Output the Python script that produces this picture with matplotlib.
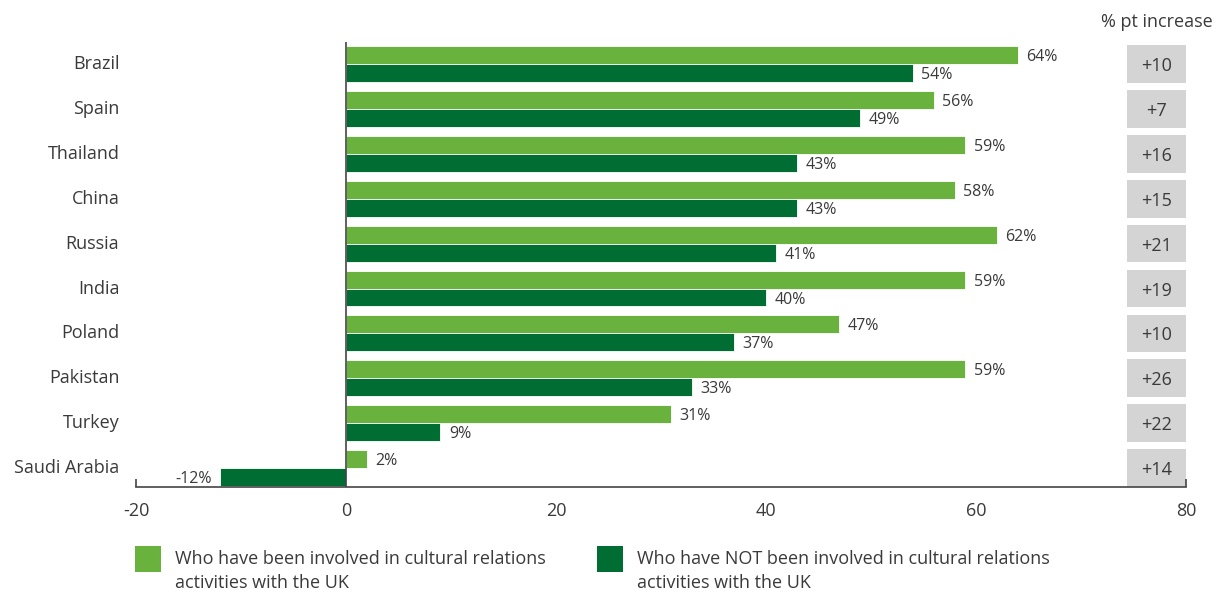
import numpy as np
import matplotlib
matplotlib.use('Agg')
import matplotlib.pyplot as plt
from matplotlib.patches import Rectangle

countries = ['Brazil', 'Spain', 'Thailand', 'China', 'Russia', 'India',
             'Poland', 'Pakistan', 'Turkey', 'Saudi Arabia']
involved = [64, 56, 59, 58, 62, 59, 47, 59, 31, 2]
not_involved = [54, 49, 43, 43, 41, 40, 37, 33, 9, -12]
increase = ['+10', '+7', '+16', '+15', '+21', '+19', '+10', '+26', '+22', '+14']
legend_labels = ['Who have been involved in cultural relations\nactivities with the UK',
                 'Who have NOT been involved in cultural relations\nactivities with the UK']

LIGHT = '#6ab23e'
DARK = '#006d33'
TEXT = '#3a3a3a'
BOX = '#d4d4d4'


def main():
    plt.rcParams['font.family'] = ['Open Sans', 'DejaVu Sans']
    fig = plt.figure(figsize=(12.16, 5.92), dpi=100)
    ax = fig.add_axes([0.1118, 0.1774, 0.8635, 0.7516])

    y = np.arange(len(countries))
    h = 0.4
    ax.barh(y - h / 2, involved, height=h, color=LIGHT, edgecolor='white', linewidth=0.6)
    ax.barh(y + h / 2, not_involved, height=h, color=DARK, edgecolor='white', linewidth=0.6)

    for offs, vals in [(-h / 2, involved), (h / 2, not_involved)]:
        for yi, v in zip(y, vals):
            ax.annotate(f'{v}%', (v, yi + offs), xytext=(6 if v >= 0 else -6, 0),
                        textcoords='offset points', va='center_baseline',
                        ha='left' if v >= 0 else 'right', fontsize=11.5, color=TEXT)

    # % pt increase boxes on the right
    for yi, s in zip(y, increase):
        ax.add_patch(Rectangle((74.4, yi - 0.42), 5.6, 0.84, facecolor=BOX,
                               edgecolor='none', zorder=1))
        ax.text(77.2, yi, s, ha='center', va='center_baseline', fontsize=13, color=TEXT)
    ax.text(77.2, -0.97, '% pt increase', ha='center', va='center_baseline', fontsize=13,
            color=TEXT, clip_on=False)

    ax.set_xlim(-20, 80)
    ax.set_ylim(9.42, -0.49)
    ax.axvline(0, color='#444444', linewidth=1.2, zorder=3)

    ax.set_yticks(y)
    ax.set_yticklabels(countries, va='center')
    ax.set_xticks([-20, 0, 20, 40, 60, 80])
    ax.set_xticklabels(['-20', '0', '20', '40', '60', '80'])
    ax.xaxis.remove_overlapping_locs = False
    ax.set_xticks([-20, 80], minor=True)
    ax.tick_params(axis='y', length=0, pad=12, labelsize=13, labelcolor=TEXT)
    ax.tick_params(axis='x', which='major', length=0, pad=11, labelsize=13, labelcolor=TEXT)
    ax.tick_params(axis='x', which='minor', direction='in', length=6, width=1.2,
                   color='#444444')

    for side in ['top', 'right', 'left']:
        ax.spines[side].set_visible(False)
    ax.spines['bottom'].set_color('#444444')
    ax.spines['bottom'].set_linewidth(1.2)

    # legend below the chart, swatch aligned with the first text line
    for x0, color, label in zip([0.111, 0.491], [LIGHT, DARK], legend_labels):
        fig.add_artist(Rectangle((x0, 0.0338), 0.0214, 0.0439, facecolor=color,
                                 edgecolor='none', transform=fig.transFigure))
        fig.text(x0 + 0.0329, 0.071, label, ha='left', va='top', fontsize=13,
                 color=TEXT, linespacing=1.45)

    fig.savefig('out.png', dpi=100)


if __name__ == '__main__':
    main()
